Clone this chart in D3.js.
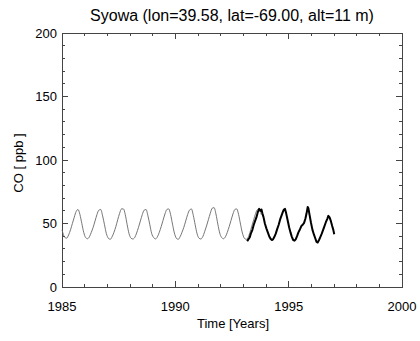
<!DOCTYPE html>
<html><head><meta charset="utf-8">
<script src="https://cdn.jsdelivr.net/npm/d3@7"></script>
<style>body{margin:0;background:#fff}svg{display:block}text{font-family:"Liberation Sans",Arial,sans-serif;fill:#000}</style>
</head><body><svg id="c" width="420" height="341"></svg>
<script>
const title = "Syowa (lon=39.58, lat=-69.00, alt=11 m)";
const xLabel = "Time [Years]";
const yLabel = "CO [ ppb ]";
const xTicks = [1985, 1990, 1995, 2000];
const yTicks = [0, 50, 100, 150, 200];
// thin grey climatology-like series: start year and monthly values
const thinStart = 1985.0;
const thinValues = [
 45,39,38.5,41,45,50,55,59.5,61,57,50,43,
 39,38,39.5,43,47,52,57,60.5,61,56,49,42,
 38.5,37.5,39.5,43,47.5,53,58,61.5,61.5,57,49,42,
 38.5,37.8,39,42.5,47,52,57,60.5,61,56,49,42,
 39,37.8,39.5,43,47.5,52.5,57.5,61,61.5,57,49.5,42.5,
 38.5,37.5,39.5,43,47,52,57,60.5,61.5,56.5,49,42,
 38.5,37.8,39.5,43.5,48,53,58,62,62.5,57.5,49.5,42.5,
 39,38,39.5,43,47.5,52.5,57.5,61,61.5,57,49.5,42.5,
 38.5,37.5,39,43,48,53,58,61,61.5,57
];
// thick black observation series
const obsTimes = [1993.17,1993.22,1993.28,1993.33,1993.4,1993.46,1993.52,1993.58,1993.64,1993.7,1993.75,1993.8,1993.84,1993.89,1993.95,1994.02,1994.08,1994.14,1994.2,1994.26,1994.31,1994.37,1994.43,1994.5,1994.56,1994.62,1994.68,1994.74,1994.79,1994.84,1994.89,1994.95,1995.02,1995.08,1995.14,1995.2,1995.26,1995.31,1995.37,1995.43,1995.5,1995.56,1995.62,1995.68,1995.74,1995.79,1995.84,1995.87,1995.92,1995.98,1996.05,1996.12,1996.18,1996.23,1996.28,1996.34,1996.4,1996.46,1996.52,1996.58,1996.64,1996.7,1996.75,1996.8,1996.86,1996.92,1996.97,1997.01];
const obsValues = [36,37.5,39,42,45,49,52,55,59,61.5,60,61,58,55,50,46,43,40,38,37,37.5,39.5,42,46,49,53,56,59,61,61.5,58,53,47,43,39.5,37,36.5,37.5,40,43,45.5,48,49,50.5,54,58,63,62,57,51,45,41,38,35.5,35,37,39.5,42,45,48,51,53.5,56,55,52,48,45,41.5];

const W = 420, H = 341;
const m = {l:62, r:402, t:33, b:287};
const svg = d3.select("#c");
const x = d3.scaleLinear().domain([1985,2000]).range([m.l, m.r]);
const y = d3.scaleLinear().domain([0,200]).range([m.b, m.t]);

const axisCol = "#444";
// frame
svg.append("rect").attr("x",m.l).attr("y",m.t).attr("width",m.r-m.l).attr("height",m.b-m.t)
  .attr("fill","none").attr("stroke",axisCol).attr("stroke-width",1).attr("shape-rendering","crispEdges");

const xMinor = d3.range(1985,2001,1);
const yMinor = d3.range(0,201,10);
const tg = svg.append("g").attr("stroke",axisCol).attr("stroke-width",1).attr("shape-rendering","crispEdges");
xMinor.forEach(v=>{
  const len = xTicks.includes(v)?6:3;
  tg.append("line").attr("x1",x(v)).attr("x2",x(v)).attr("y1",m.b).attr("y2",m.b-len);
  tg.append("line").attr("x1",x(v)).attr("x2",x(v)).attr("y1",m.t).attr("y2",m.t+len);
});
yMinor.forEach(v=>{
  const len = yTicks.includes(v)?6:3;
  tg.append("line").attr("y1",y(v)).attr("y2",y(v)).attr("x1",m.l).attr("x2",m.l+len);
  tg.append("line").attr("y1",y(v)).attr("y2",y(v)).attr("x1",m.r).attr("x2",m.r-len);
});

svg.selectAll(".xt").data(xTicks).enter().append("text")
  .attr("x",d=>x(d)).attr("y",310.5).attr("text-anchor","middle").attr("font-size",13).text(d=>d);
svg.selectAll(".yt").data(yTicks).enter().append("text")
  .attr("x",57).attr("y",d=>y(d)+4.5).attr("text-anchor","end").attr("font-size",13).text(d=>d);

svg.append("text").attr("x",232).attr("y",21).attr("text-anchor","middle").attr("font-size",16).text(title);
svg.append("text").attr("x",233).attr("y",328).attr("text-anchor","middle").attr("font-size",13).text(xLabel);
svg.append("text").attr("transform","translate(23,163) rotate(-90)").attr("text-anchor","middle").attr("font-size",13).text(yLabel);

const thin = thinValues.map((v,i)=>[thinStart + (i===0?0:(i+0.5)/12), v]);
const line = d3.line().x(d=>x(d[0])).y(d=>y(d[1])).curve(d3.curveMonotoneX);
svg.append("path").datum(thin).attr("d",line).attr("fill","none").attr("stroke","#666").attr("stroke-width",0.9);
const obs = obsTimes.map((t,i)=>[t, obsValues[i]]);
svg.append("path").datum(obs).attr("d",d3.line().x(d=>x(d[0])).y(d=>y(d[1])))
  .attr("fill","none").attr("stroke","#000").attr("stroke-width",2).attr("stroke-linejoin","round");
</script></body></html>
